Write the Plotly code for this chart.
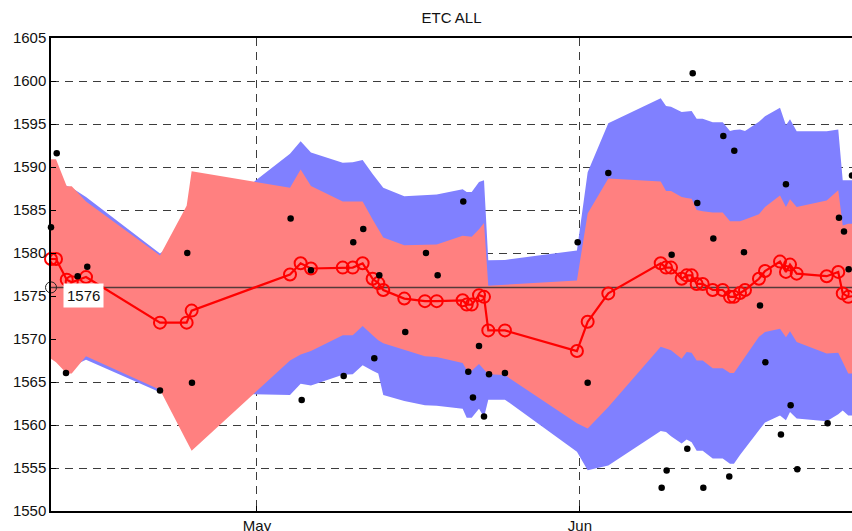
import pandas as pd
import plotly.graph_objects as go

# ---------------- data ----------------
BASE_DATE = "2015-04-01"          # day 0 of the day offsets below
TITLE = "ETC ALL"
X_RANGE_DAYS = [10.23, 87.11]
Y_RANGE = [1550, 1605]
Y_DTICK = 5
REF_LEVEL = 1576
REF_LABEL = "1576"

LINE_DAYS = [10.23, 10.71, 11.74, 12.22, 13.59, 20.69, 23.25, 23.73, 33.17, 34.19,
             35.18, 38.23, 39.19, 40.14, 41.10, 41.64, 42.12, 44.14, 46.12, 47.25,
             49.74, 50.13, 50.61, 51.31, 51.79, 52.20, 53.80, 60.71, 61.74, 63.72,
             68.75, 69.26, 69.74, 70.76, 71.24, 71.72, 72.20, 72.78, 73.74, 74.70,
             75.40, 75.78, 76.36, 76.84, 78.18, 78.76, 80.20, 80.77, 81.16, 81.80,
             84.68, 85.79, 86.22, 86.75, 87.25]

LINE_VALS = [1579.3, 1579.3, 1576.9, 1576.6, 1577.2, 1571.9, 1571.9, 1573.3, 1577.5, 1578.8,
             1578.2, 1578.3, 1578.3, 1578.8, 1577.0, 1576.5, 1575.7, 1574.7, 1574.4, 1574.4,
             1574.5, 1574.0, 1574.0, 1575.1, 1574.9, 1571.0, 1571.0, 1568.6, 1572.0, 1575.3,
             1578.8, 1578.3, 1578.3, 1577.0, 1577.4, 1577.4, 1576.4, 1576.4, 1575.7, 1575.7,
             1574.9, 1574.9, 1575.35, 1575.7, 1577.0, 1577.9, 1579.0, 1577.8, 1578.65, 1577.6,
             1577.3, 1577.8, 1575.3, 1574.9, 1575.0]

RED_UPPER = [1590.9, 1590.9, 1587.75, 1587.75, 1586.0, 1579.7, 1585.5, 1589.5, 1587.6, 1589.7,
             1587.8, 1586.0, 1586.0, 1586.0, 1583.9, 1582.8, 1581.8, 1580.9, 1580.95, 1581.0,
             1582.0, 1581.95, 1581.9, 1582.75, 1583.5, 1576.2, 1576.3, 1576.8, 1584.6, 1588.65,
             1588.3, 1587.2, 1587.2, 1586.5, 1586.4, 1586.3, 1585.0, 1584.85, 1584.7, 1584.7,
             1583.7, 1583.7, 1583.7, 1583.9, 1584.5, 1585.35, 1586.7, 1585.35, 1586.25, 1585.35,
             1586.1, 1587.3, 1583.2, 1583.4, 1583.4]

RED_LOWER = [1567.7, 1567.3, 1566.0, 1566.0, 1568.0, 1564.1, 1558.1, 1557.0, 1567.5, 1568.2,
             1568.6, 1570.45, 1570.45, 1571.5, 1570.45, 1569.85, 1569.5, 1568.7, 1568.0, 1567.9,
             1567.2, 1566.4, 1566.3, 1567.1, 1566.4, 1565.9, 1565.8, 1560.2, 1559.6, 1562.1,
             1569.1, 1568.9, 1568.7, 1567.7, 1568.5, 1568.4, 1567.5, 1567.5, 1566.6, 1566.6,
             1566.05, 1566.05, 1567.05, 1567.9, 1570.25, 1570.8, 1571.2, 1570.2, 1570.9, 1569.65,
             1568.3, 1568.4, 1567.3, 1566.0, 1566.0]

BLUE_UPPER = [1588.5, 1588.3, 1587.8, 1587.6, 1586.5, 1579.95, 1582.2, 1582.6, 1591.55, 1593.0,
              1591.7, 1590.5, 1590.55, 1590.8, 1589.2, 1588.35, 1587.6, 1586.6, 1586.7, 1586.8,
              1587.4, 1587.1, 1587.1, 1588.25, 1588.45, 1579.15, 1579.2, 1580.3, 1589.4, 1595.1,
              1598.0, 1597.1, 1597.0, 1596.4, 1596.44, 1596.5, 1595.6, 1595.6, 1595.2, 1595.2,
              1594.2, 1594.3, 1594.35, 1594.2, 1595.25, 1595.9, 1596.9, 1594.85, 1595.55, 1594.15,
              1594.15, 1594.35, 1588.45, 1588.45, 1588.45]

BLUE_LOWER = [1568.5, 1568.0, 1566.8, 1566.8, 1567.6, 1563.8, 1563.7, 1563.7, 1563.5, 1564.8,
              1564.6, 1565.85, 1565.9, 1566.95, 1566.3, 1566.0, 1563.5, 1562.8, 1562.3, 1562.25,
              1561.9, 1560.85, 1560.85, 1561.9, 1560.9, 1562.95, 1562.95, 1556.9, 1554.75, 1555.3,
              1559.3, 1559.2, 1558.7, 1557.85, 1558.3, 1558.0, 1557.0, 1557.0, 1556.1, 1556.1,
              1555.5, 1555.5, 1556.5, 1557.3, 1559.4, 1560.3, 1561.1, 1560.55, 1561.5, 1560.75,
              1560.45, 1561.25, 1561.7, 1561.1, 1561.1]

DOT_DAYS = [10.23, 10.78, 11.67, 12.79, 13.71, 20.69, 23.31, 23.76, 33.23, 34.29,
            35.18, 38.32, 39.24, 40.20, 41.26, 41.74, 44.23, 46.22, 47.34, 49.80,
            50.28, 50.73, 51.31, 51.79, 52.27, 53.80, 60.78, 61.74, 63.72, 68.84,
            69.32, 69.80, 71.30, 71.82, 72.26, 72.84, 73.80, 74.76, 75.33, 75.81,
            76.74, 78.28, 78.79, 80.29, 80.77, 81.22, 81.86, 84.77, 85.86, 86.34,
            86.79, 87.11]

DOT_VALS = [1583.0, 1591.6, 1566.05, 1577.3, 1578.4, 1564.0, 1580.0, 1564.9, 1584.0, 1562.9,
            1578.0, 1565.7, 1581.25, 1582.8, 1567.75, 1577.4, 1570.8, 1580.0, 1577.4, 1586.0,
            1566.2, 1563.2, 1569.2, 1561.0, 1565.9, 1566.05, 1581.25, 1564.9, 1589.3, 1552.7,
            1554.7, 1579.8, 1557.25, 1600.9, 1585.8, 1552.7, 1581.7, 1593.6, 1554.0, 1591.9,
            1580.1, 1573.9, 1567.3, 1558.9, 1588.0, 1562.3, 1554.85, 1560.2, 1584.1, 1582.5,
            1578.1, 1589.0]

# ---------------- helpers ----------------
base = pd.Timestamp(BASE_DATE)


def to_dates(days):
    return [base + pd.to_timedelta(d, unit="D") for d in days]


line_x = to_dates(LINE_DAYS)
dot_x = to_dates(DOT_DAYS)
x_range = to_dates(X_RANGE_DAYS)

BLUE = "#8080FF"
PINK = "#FF8080"
RED = "#FF0000"
FONT = "Liberation Sans, Arial, Helvetica, sans-serif"

fig = go.Figure()

# outer (blue) band
fig.add_trace(go.Scatter(x=line_x, y=BLUE_LOWER, mode="lines", line=dict(width=0),
                         hoverinfo="skip"))
fig.add_trace(go.Scatter(x=line_x, y=BLUE_UPPER, mode="lines", line=dict(width=0),
                         fill="tonexty", fillcolor=BLUE, hoverinfo="skip"))
# inner (red) band
fig.add_trace(go.Scatter(x=line_x, y=RED_LOWER, mode="lines", line=dict(width=0),
                         hoverinfo="skip"))
fig.add_trace(go.Scatter(x=line_x, y=RED_UPPER, mode="lines", line=dict(width=0),
                         fill="tonexty", fillcolor=PINK, hoverinfo="skip"))

# reference level line
fig.add_trace(go.Scatter(x=x_range, y=[REF_LEVEL, REF_LEVEL], mode="lines",
                         line=dict(color="rgba(40,40,40,0.8)", width=1.5),
                         hoverinfo="skip"))
fig.add_trace(go.Scatter(x=[x_range[0]], y=[REF_LEVEL], mode="markers",
                         marker=dict(symbol="circle-open", size=11, color="#222",
                                     line=dict(width=1)),
                         cliponaxis=False, hoverinfo="skip"))

# red line with open circles
fig.add_trace(go.Scatter(x=line_x, y=LINE_VALS, mode="lines+markers",
                         line=dict(color=RED, width=2.2),
                         marker=dict(symbol="circle-open", size=12, color=RED,
                                     line=dict(width=2, color=RED)),
                         cliponaxis=False))

# black dots
fig.add_trace(go.Scatter(x=dot_x, y=DOT_VALS, mode="markers",
                         marker=dict(size=6.5, color="black"),
                         cliponaxis=False))

fig.add_annotation(x=0, xref="paper", y=REF_LEVEL, yref="y", text=REF_LABEL,
                   showarrow=False, xanchor="left", yanchor="top",
                   xshift=12, yshift=4, bgcolor="white", borderpad=3,
                   font=dict(family=FONT, size=15, color="#111"))

grid = dict(showgrid=True, gridcolor="#3c3c3c", gridwidth=1, griddash="8px,6px",
            showline=True, linecolor="black", linewidth=1.5, zeroline=False,
            ticks="inside", ticklen=5, tickcolor="black", automargin=False,
            tickfont=dict(family=FONT, size=15, color="#111"))

fig.update_xaxes(type="date", range=x_range, dtick="M1", tick0="2015-05-01",
                 tickformat="%b", mirror=True, **grid)
fig.update_yaxes(range=Y_RANGE, dtick=Y_DTICK, mirror=False, **grid)

fig.update_layout(
    width=852, height=531,
    margin=dict(l=51, r=0, t=38, b=20, pad=0),
    paper_bgcolor="white", plot_bgcolor="white",
    showlegend=False,
    font=dict(family=FONT, size=15, color="#111"),
    title=dict(text=TITLE, x=0.5, xref="paper", xanchor="center",
               y=1 - 17.7 / 531, yref="container", yanchor="middle",
               automargin=False,
               font=dict(family=FONT, size=15, color="#111")),
)

# remove the browser's default 8px page margin so the figure fills the window
fig.write_html("out.html",
               config={"displayModeBar": False},
               post_script="document.body.style.margin='0';"
                           "document.body.style.overflow='hidden';")
